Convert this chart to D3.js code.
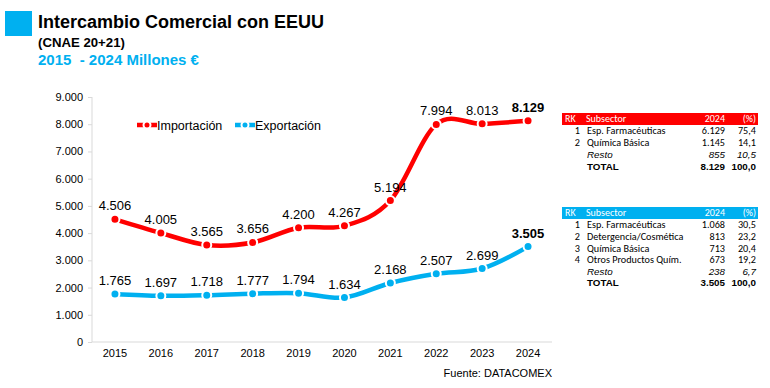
<!DOCTYPE html>
<html>
<head>
<meta charset="utf-8">
<script src="https://cdn.jsdelivr.net/npm/d3@7"></script>
<style>
  body { margin: 0; background: #fff; }
  text { font-family: Arial, "Liberation Sans", sans-serif; }
  .tbl text { font-family: Carlito, "Liberation Sans Narrow", Lato, sans-serif; }
</style>
</head>
<body>
<script>
var years = [2015, 2016, 2017, 2018, 2019, 2020, 2021, 2022, 2023, 2024];
var importacion = [4506, 4005, 3565, 3656, 4200, 4267, 5194, 7994, 8013, 8129];
var exportacion = [1765, 1697, 1718, 1777, 1794, 1634, 2168, 2507, 2699, 3505];
var yTicks = [0, 1000, 2000, 3000, 4000, 5000, 6000, 7000, 8000, 9000];

var impRows = [
  {rk: "1", name: "Esp. Farmacéuticas", v: "6.129", p: "75,4"},
  {rk: "2", name: "Química Básica", v: "1.145", p: "14,1"},
  {rk: "", name: "Resto", v: "855", p: "10,5", it: true},
  {rk: "", name: "TOTAL", v: "8.129", p: "100,0", b: true}
];
var expRows = [
  {rk: "1", name: "Esp. Farmacéuticas", v: "1.068", p: "30,5"},
  {rk: "2", name: "Detergencia/Cosmética", v: "813", p: "23,2"},
  {rk: "3", name: "Química Básica", v: "713", p: "20,4"},
  {rk: "4", name: "Otros Productos Quím.", v: "673", p: "19,2"},
  {rk: "", name: "Resto", v: "238", p: "6,7", it: true},
  {rk: "", name: "TOTAL", v: "3.505", p: "100,0", b: true}
];

var RED = "#ff0000", BLUE = "#00b0f0";

var es = d3.formatLocale({decimal: ",", thousands: ".", grouping: [3], currency: ["", "€"]});
var fmt = es.format(",.0f");

var svg = d3.select("body").append("svg")
  .attr("width", 770)
  .attr("height", 388);

// titulo
svg.append("rect").attr("x", 5).attr("y", 11).attr("width", 27).attr("height", 25).attr("fill", BLUE);
svg.append("text").attr("x", 38).attr("y", 28).attr("font-size", 18).attr("font-weight", "bold")
  .text("Intercambio Comercial con EEUU");
svg.append("text").attr("x", 38).attr("y", 47).attr("font-size", 13.2).attr("font-weight", "bold")
  .text("(CNAE 20+21)");
svg.append("text").attr("x", 38).attr("y", 65).attr("font-size", 15).attr("font-weight", "bold")
  .attr("fill", BLUE).attr("xml:space", "preserve").text("2015  - 2024 Millones €");

var x = d3.scaleBand().domain(years).range([92, 551]);
var y = d3.scaleLinear().domain([0, 9000]).range([342, 97]);

// ejes
var gy = svg.append("g").attr("transform", "translate(92,0)")
  .call(d3.axisLeft(y).tickValues(yTicks).tickFormat(fmt).tickSize(4).tickPadding(5));
gy.selectAll("text").attr("font-size", 11).attr("fill", "#000").attr("font-family", "Arial, 'Liberation Sans', sans-serif");
gy.selectAll("line, path").attr("stroke", "#d9d9d9");
gy.select(".domain").attr("d", "M0,97V342");

var gx = svg.append("g").attr("transform", "translate(0,342)")
  .call(d3.axisBottom(x).tickSize(0).tickPadding(7));
gx.selectAll("text").attr("font-size", 11).attr("fill", "#000").attr("font-family", "Arial, 'Liberation Sans', sans-serif");
gx.select(".domain").attr("stroke", "#d9d9d9").attr("d", "M92,0H552");

var line = d3.line()
  .x(function(d, i) { return x(years[i]) + x.bandwidth() / 2; })
  .y(function(d) { return y(d); })
  .curve(d3.curveCardinal.tension(0));

function drawSeries(data, color) {
  svg.append("path").datum(data)
    .attr("d", line)
    .attr("fill", "none")
    .attr("stroke", color)
    .attr("stroke-width", 4.5);
  svg.selectAll(null).data(data).enter().append("circle")
    .attr("cx", function(d, i) { return x(years[i]) + x.bandwidth() / 2; })
    .attr("cy", function(d) { return y(d); })
    .attr("r", 4.5)
    .attr("fill", color)
    .attr("stroke", "#fff")
    .attr("stroke-width", 2);
  svg.selectAll(null).data(data).enter().append("text")
    .attr("x", function(d, i) { return x(years[i]) + x.bandwidth() / 2; })
    .attr("y", function(d) { return y(d) - 9; })
    .attr("text-anchor", "middle")
    .attr("font-size", 13)
    .attr("font-weight", function(d, i) { return i == data.length - 1 ? "bold" : "normal"; })
    .text(function(d) { return fmt(d); });
}
drawSeries(importacion, RED);
drawSeries(exportacion, BLUE);

// leyenda
var legend = [{name: "Importación", color: RED, x: 137}, {name: "Exportación", color: BLUE, x: 235}];
legend.forEach(function(l) {
  svg.append("line").attr("x1", l.x).attr("x2", l.x + 20).attr("y1", 125).attr("y2", 125)
    .attr("stroke", l.color).attr("stroke-width", 4.5);
  svg.append("circle").attr("cx", l.x + 10).attr("cy", 125).attr("r", 3.5)
    .attr("fill", l.color).attr("stroke", "#fff").attr("stroke-width", 2);
  svg.append("text").attr("x", l.x + 20).attr("y", 129.5).attr("font-size", 12.5).text(l.name);
});

svg.append("text").attr("x", 552).attr("y", 377).attr("text-anchor", "end").attr("font-size", 11)
  .text("Fuente: DATACOMEX");

// tablas
function drawTable(rows, top, color, gaps) {
  var g = svg.append("g").attr("class", "tbl");
  g.append("rect").attr("x", 562).attr("y", top).attr("width", 196).attr("height", 12).attr("fill", color);
  var hy = top + 9;
  var hdr = [["RK", 565, "start"], ["Subsector", 586, "start"], ["2024", 725, "end"], ["(%)", 756, "end"]];
  hdr.forEach(function(h) {
    g.append("text").attr("x", h[1]).attr("y", hy).attr("fill", "#fff").attr("font-size", 10)
      .attr("text-anchor", h[2]).text(h[0]);
  });
  rows.forEach(function(r, i) {
    var ry = top + gaps[i];
    var plain = r.it || r.b;
    var fam = plain ? "Arial, 'Liberation Sans', sans-serif" : null;
    var sty = r.it ? "italic" : "normal";
    var w = r.b ? "bold" : "normal";
    var fs = plain ? 9.8 : 10.2;
    g.append("text").attr("x", 580).attr("y", ry).attr("font-size", fs).attr("text-anchor", "end").text(r.rk);
    [[r.name, 587, "start"], [r.v, 725, "end"], [r.p, 756, "end"]].forEach(function(c) {
      g.append("text").attr("x", c[1]).attr("y", ry).attr("font-size", fs).attr("text-anchor", c[2])
        .style("font-family", fam).style("font-style", sty).attr("font-weight", w).text(c[0]);
    });
  });
}
drawTable(impRows, 113, RED, [21, 33, 45, 57]);
drawTable(expRows, 207, BLUE, [21, 33, 44.5, 56, 67.5, 79]);
</script>
</body>
</html>
